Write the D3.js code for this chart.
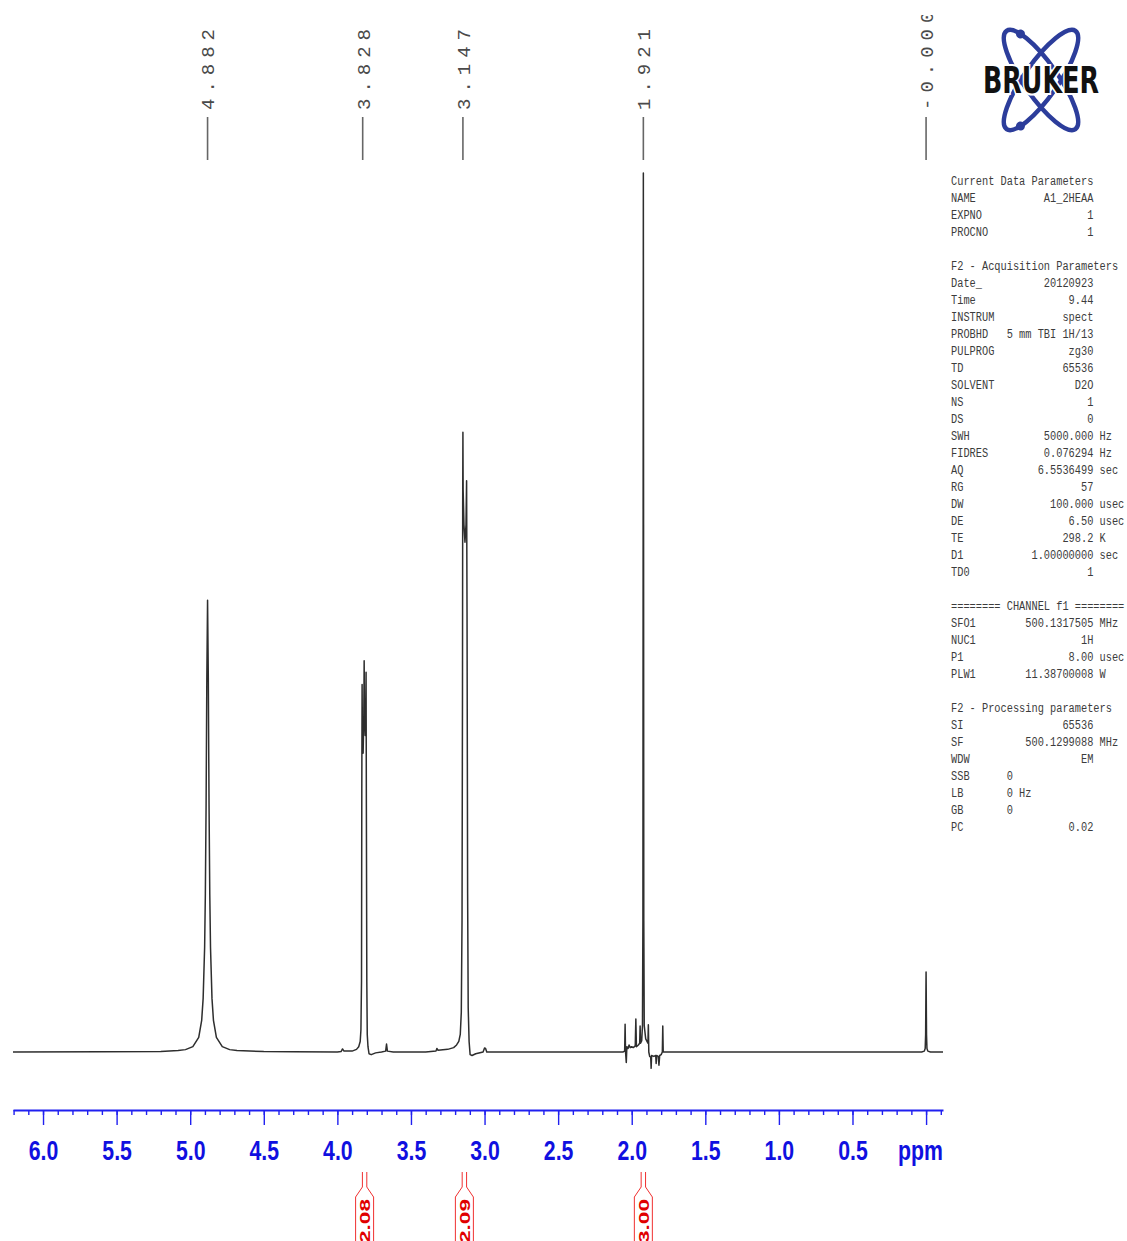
<!DOCTYPE html>
<html>
<head>
<meta charset="utf-8">
<script src="https://cdn.jsdelivr.net/npm/d3@7"></script>
<style>
body { margin: 0; background: #fff; }
svg { display: block; }
</style>
</head>
<body>
<svg id="chart" width="1127" height="1241"></svg>
<script>
// peak picking labels
var peakPpm = [4.882, 3.828, 3.147, 1.921, 0.000];
var peakLabels = ["4.882", "3.828", "3.147", "1.921", "-0.000"];

// integral regions (ppm from / to) and their values
var integralFrom = [3.860, 3.180, 1.960];
var integralTo = [3.770, 3.094, 1.882];
var integralLabels = ["2.08", "2.09", "3.00"];

// axis labels
var majorTicks = [6.0, 5.5, 5.0, 4.5, 4.0, 3.5, 3.0, 2.5, 2.0, 1.5, 1.0, 0.5, 0.0];
var tickLabels = ["6.0", "5.5", "5.0", "4.5", "4.0", "3.5", "3.0", "2.5", "2.0", "1.5", "1.0", "0.5", ""];

// spectrum trace: [ppm, intensity (tallest line = 100)]
var spectrum = [
    [6.204, 0.00], [5.600, 0.02], [5.200, 0.05], [5.082, 0.16], [5.032, 0.27],
    [4.982, 0.61], [4.942, 1.67], [4.922, 3.6], [4.912, 6.1], [4.902, 11.9],
    [4.897, 18.0], [4.892, 28.1], [4.887, 42.6], [4.882, 51.4], [4.877, 42.6],
    [4.872, 28.1], [4.867, 18.0], [4.862, 11.9], [4.852, 6.1], [4.842, 3.6],
    [4.822, 1.67], [4.782, 0.61], [4.732, 0.27], [4.682, 0.16], [4.500, 0.05],
    [4.300, 0.02], [4.000, 0.00], [3.975, 0.05], [3.965, 0.35], [3.955, 0.10],
    [3.900, 0.10], [3.870, 0.30], [3.855, 0.60], [3.845, 1.2], [3.840, 2.5],
    [3.836, 8.0], [3.834, 30.0], [3.832, 41.8], [3.830, 36.0], [3.825, 34.0],
    [3.8205, 38.0], [3.818, 44.5], [3.816, 39.0], [3.811, 36.0], [3.807, 38.0],
    [3.805, 43.2], [3.803, 28.0], [3.800, 8.0], [3.797, 2.0], [3.792, 0.6],
    [3.785, -0.2], [3.770, -0.3], [3.740, -0.1], [3.700, 0.00], [3.672, 0.10],
    [3.666, 0.90], [3.660, 0.10], [3.620, 0.00], [3.400, 0.00], [3.330, 0.10],
    [3.324, 0.40], [3.316, 0.20], [3.250, 0.30], [3.210, 0.50], [3.190, 0.80],
    [3.175, 1.2], [3.165, 2.0], [3.158, 4.5], [3.153, 15.0], [3.150, 40.0],
    [3.1485, 62.0], [3.147, 70.5], [3.1455, 64.0], [3.140, 60.0], [3.133, 58.0],
    [3.126, 60.0], [3.122, 65.0], [3.119, 50.0], [3.115, 18.0], [3.111, 5.0],
    [3.105, 1.2], [3.098, -0.3], [3.085, -0.4], [3.060, -0.2], [3.010, 0.00],
    [3.000, 0.45], [2.993, 0.40], [2.985, 0.00], [2.600, 0.00], [2.200, 0.00],
    [2.060, 0.00], [2.048, 0.10], [2.045, 3.15], [2.042, 0.00], [2.037, -1.2],
    [2.033, 0.60], [2.025, 0.40], [2.018, 0.80], [2.010, 0.50], [2.000, 0.60],
    [1.990, 0.50], [1.976, 0.70], [1.972, 3.75], [1.968, 0.60], [1.955, 0.80],
    [1.946, 1.0], [1.943, 2.95], [1.940, 1.0], [1.932, 1.3], [1.927, 3.0],
    [1.924, 15.0], [1.9225, 60.0], [1.921, 100.0], [1.9195, 60.0], [1.918, 15.0],
    [1.915, 3.0], [1.905, 1.5], [1.890, 1.0], [1.887, 3.1], [1.884, 0.00],
    [1.878, -0.5], [1.871, -0.6], [1.868, -1.86], [1.865, -0.4], [1.850, -0.5],
    [1.837, -0.4], [1.834, -1.3], [1.831, -0.4], [1.820, -0.5], [1.815, -1.5],
    [1.810, -0.4], [1.800, -0.3], [1.792, 0.00], [1.789, 2.96], [1.786, 0.00],
    [1.770, 0.00], [1.200, 0.00], [0.600, 0.00], [0.030, 0.00], [0.012, 0.10],
    [0.006, 0.40], [0.003, 2.0], [0.001, 7.0], [0.000, 9.1], [-0.001, 7.0],
    [-0.003, 2.0], [-0.006, 0.40], [-0.012, 0.10], [-0.030, 0.00], [-0.115, 0.00]
];

// parameter listing: [name, value, unit, leftAligned]
var currentParams = [
    ["NAME", "A1_2HEAA", ""], ["EXPNO", "1", ""], ["PROCNO", "1", ""]
];
var acqParams = [
    ["Date_", "20120923", ""], ["Time", "9.44", ""], ["INSTRUM", "spect", ""],
    ["PROBHD", "5 mm TBI 1H/13", ""], ["PULPROG", "zg30", ""], ["TD", "65536", ""],
    ["SOLVENT", "D2O", ""], ["NS", "1", ""], ["DS", "0", ""],
    ["SWH", "5000.000", "Hz"], ["FIDRES", "0.076294", "Hz"], ["AQ", "6.5536499", "sec"],
    ["RG", "57", ""], ["DW", "100.000", "usec"], ["DE", "6.50", "usec"],
    ["TE", "298.2", "K"], ["D1", "1.00000000", "sec"], ["TD0", "1", ""]
];
var channelParams = [
    ["SFO1", "500.1317505", "MHz"], ["NUC1", "1H", ""], ["P1", "8.00", "usec"],
    ["PLW1", "11.38700008", "W"]
];
var procParams = [
    ["SI", "65536", ""], ["SF", "500.1299088", "MHz"], ["WDW", "EM", ""],
    ["SSB", "0", "", true], ["LB", "0", "Hz", true], ["GB", "0", "", true],
    ["PC", "0.02", ""]
];

var svg = d3.select("#chart");
var width = 1127, height = 1241;

var x = d3.scaleLinear().domain([6.204, -0.115]).range([13, 943]);
var y = d3.scaleLinear().domain([0, 100]).range([1052, 173]);

svg.append("rect").attr("width", width).attr("height", height).attr("fill", "#fff");

// spectrum
var line = d3.line()
    .x(function(d){ return x(d[0]); })
    .y(function(d){ return y(d[1]); });

svg.append("path")
    .datum(spectrum)
    .attr("fill", "none")
    .attr("stroke", "#2e2e2e")
    .attr("stroke-width", 1.5)
    .attr("stroke-linejoin", "round")
    .attr("d", line);

// peak labels
svg.append("clipPath").attr("id", "labelClip")
    .append("rect").attr("x", 0).attr("y", 15).attr("width", 950).attr("height", 200);

var peaks = svg.append("g").attr("clip-path", "url(#labelClip)");
peakPpm.forEach(function(p, i){
    peaks.append("line")
        .attr("x1", x(p)).attr("x2", x(p))
        .attr("y1", 117).attr("y2", 160)
        .attr("stroke", "#666").attr("stroke-width", 1.6);
    peaks.append("text")
        .attr("transform", "translate(" + x(p) + ",110) rotate(-90)")
        .attr("dy", "0.36em")
        .attr("font-family", "'Liberation Mono', 'DejaVu Sans Mono', monospace")
        .attr("font-size", 19)
        .attr("letter-spacing", 6)
        .attr("fill", "#4a4a4a")
        .text(peakLabels[i]);
});

// ppm axis
var axisColor = "#2020f0";
var axisG = svg.append("g").attr("transform", "translate(0,1110)");

axisG.append("g")
    .call(d3.axisBottom(x).tickValues(x.ticks(60)).tickSize(5).tickSizeOuter(0).tickFormat(""))
    .call(function(g){
        g.select(".domain").attr("stroke", axisColor).attr("stroke-width", 2);
        g.selectAll(".tick line").attr("stroke", axisColor).attr("stroke-width", 1.4);
    });

axisG.append("g")
    .call(d3.axisBottom(x).tickValues(majorTicks).tickSize(15).tickSizeOuter(0)
        .tickFormat(function(d, i){ return tickLabels[i]; }))
    .call(function(g){
        g.select(".domain").remove();
        g.selectAll(".tick line").attr("stroke", axisColor).attr("stroke-width", 1.4);
        g.selectAll(".tick text")
            .attr("y", 50).attr("dy", null)
            .attr("transform", "scale(0.76,1)")
            .attr("fill", "#1010e0")
            .attr("font-family", "'Liberation Sans Narrow', 'Liberation Sans', sans-serif")
            .attr("font-weight", "bold")
            .attr("font-size", 28);
    });

axisG.append("text")
    .attr("transform", "translate(943,50) scale(0.76,1)")
    .attr("text-anchor", "end")
    .attr("fill", "#1010e0")
    .attr("font-family", "'Liberation Sans Narrow', 'Liberation Sans', sans-serif")
    .attr("font-weight", "bold")
    .attr("font-size", 28)
    .text("ppm");

// integrals
var integ = svg.append("g");
integralLabels.forEach(function(lab, i){
    var cx = (x(integralFrom[i]) + x(integralTo[i])) / 2;
    integ.append("path")
        .attr("d", "M" + (cx - 2.2) + ",1172 V1187 L" + (cx - 9) + ",1197 V1250" +
                   "M" + (cx + 2.2) + ",1172 V1187 L" + (cx + 9) + ",1197 V1250")
        .attr("fill", "none").attr("stroke", "#f03030").attr("stroke-width", 1);
    integ.append("text")
        .attr("transform", "translate(" + cx + ",1199) rotate(-90)")
        .attr("text-anchor", "end")
        .attr("dy", "0.36em")
        .attr("fill", "#e00000")
        .attr("font-family", "'Liberation Sans', Arial, sans-serif")
        .attr("font-weight", "bold")
        .attr("font-size", 15)
        .attr("textLength", 44)
        .attr("lengthAdjust", "spacingAndGlyphs")
        .text(lab);
});

// logo
var logo = svg.append("g").attr("transform", "translate(1041,80)");
[55, -55].forEach(function(a){
    var orbit = logo.append("g").attr("transform", "rotate(" + a + ")");
    orbit.append("ellipse")
        .attr("rx", 60).attr("ry", 17)
        .attr("fill", "none").attr("stroke", "#2c3d9b").attr("stroke-width", 4.5);
    orbit.append("circle")
        .attr("cx", -49.5).attr("cy", a > 0 ? -9.6 : 9.6).attr("r", 4.5)
        .attr("fill", "#2c3d9b");
});
logo.append("text")
    .attr("y", 13)
    .attr("text-anchor", "middle")
    .attr("font-family", "'DejaVu Sans', 'Liberation Sans', sans-serif")
    .attr("font-weight", "bold")
    .attr("font-size", 37)
    .attr("textLength", 116)
    .attr("lengthAdjust", "spacingAndGlyphs")
    .attr("fill", "#111")
    .attr("stroke", "#fff")
    .attr("stroke-width", 4)
    .attr("paint-order", "stroke")
    .text("BRUKER");

// parameter listing
function fmtRow(r){
    if (r[3]) {
        var s = r[0];
        while (s.length < 9) s += " ";
        return s + r[1] + (r[2] ? " " + r[2] : "");
    }
    var pad = Math.max(1, 23 - r[0].length - r[1].length);
    return r[0] + " ".repeat(pad) + r[1] + (r[2] ? " " + r[2] : "");
}

var lines = [];
lines.push("Current Data Parameters");
currentParams.forEach(function(r){ lines.push(fmtRow(r)); });
lines.push("");
lines.push("F2 - Acquisition Parameters");
acqParams.forEach(function(r){ lines.push(fmtRow(r)); });
lines.push("");
lines.push("======== CHANNEL f1 ========");
channelParams.forEach(function(r){ lines.push(fmtRow(r)); });
lines.push("");
lines.push("F2 - Processing parameters");
procParams.forEach(function(r){ lines.push(fmtRow(r)); });

var params = svg.append("g").attr("transform", "translate(951,0) scale(0.765,1)");
params.selectAll("text")
    .data(lines)
    .enter()
    .append("text")
    .attr("x", 0)
    .attr("y", function(d, i){ return 181 + i * 17 + 4.5; })
    .attr("font-family", "'Liberation Mono', 'DejaVu Sans Mono', monospace")
    .attr("font-size", 13.5)
    .attr("fill", "#3c3c3c")
    .style("white-space", "pre")
    .text(function(d){ return d; });
</script>
</body>
</html>
